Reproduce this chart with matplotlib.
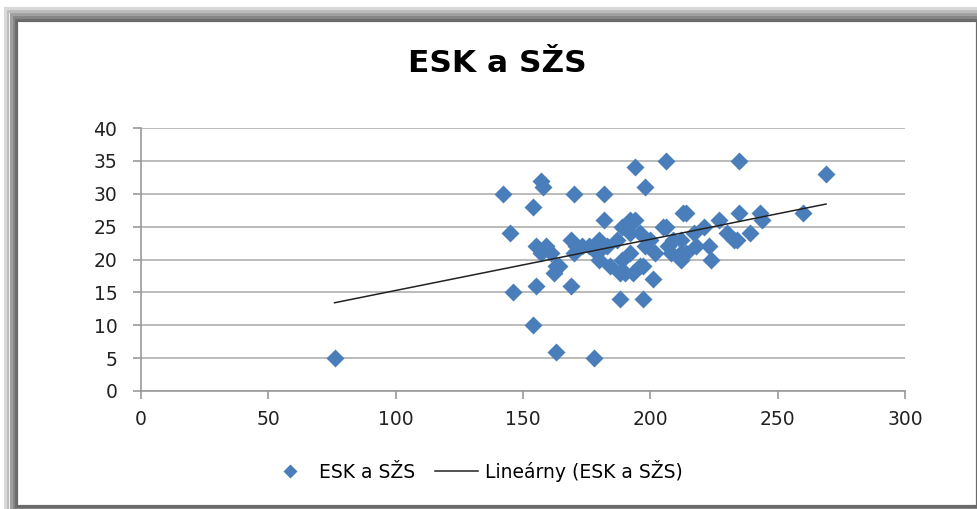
import matplotlib
matplotlib.use('Agg')
import matplotlib.pyplot as plt
import numpy as np
from matplotlib.patches import Rectangle

# ESK (x) and SZS (y) values
esk = [76, 142, 145, 146, 154, 154, 155, 155, 157, 158, 157, 159, 161, 162, 163,
       163, 164, 169, 169, 170, 170, 171, 173, 176, 178, 179, 180, 180, 182, 182,
       183, 184, 187, 188, 188, 189, 189, 190, 191, 192, 192, 192, 193, 194, 194,
       196, 196, 197, 197, 198, 198, 200, 201, 202, 205, 206, 206, 207, 208, 209,
       212, 212, 212, 213, 214, 214, 217, 218, 221, 223, 224, 227, 230, 233, 234,
       235, 235, 239, 243, 244, 260, 269]
szs = [5, 30, 24, 15, 28, 10, 16, 22, 32, 31, 21, 22, 21, 18, 19,
       6, 19, 23, 16, 30, 21, 22, 22, 22, 5, 21, 23, 20, 30, 26,
       22, 19, 23, 18, 14, 25, 20, 18, 25, 26, 24, 21, 18, 34, 26,
       24, 19, 14, 19, 31, 22, 23, 17, 21, 25, 35, 25, 22, 21, 23,
       23, 21, 20, 27, 21, 27, 24, 22, 25, 22, 20, 26, 24, 23, 23,
       35, 27, 24, 27, 26, 27, 33]

title = 'ESK a SŽS'
series_name = 'ESK a SŽS'
trend_name = 'Lineárny (ESK a SŽS)'

W, H = 978, 509
plt.rcParams['font.family'] = ['DejaVu Sans']

fig = plt.figure(figsize=(W / 100, H / 100), dpi=100)
fig.patch.set_facecolor('white')

ax = fig.add_axes([141 / W, 1 - 391 / H, 764 / W, 263 / H])
ax.plot(esk, szs, 'D', ms=9, color='#4a7ebb', mec='none', zorder=3, label=series_name)

# linear trend, like excel's trendline
k, q = np.polyfit(esk, szs, 1)
xs = np.array([min(esk), max(esk)])
ax.plot(xs, k * xs + q, color='#222222', lw=1.1, zorder=4, label=trend_name)

ax.set_xlim(0, 300)
ax.set_ylim(0, 40)
ax.set_xticks(range(0, 301, 50))
ax.set_yticks(range(0, 41, 5))
ax.grid(axis='y', color='#b5b5b5', lw=1.3)
ax.set_axisbelow(True)
for s in ['top', 'right']:
    ax.spines[s].set_visible(False)
for s in ['left', 'bottom']:
    ax.spines[s].set_color('#9a9a9a')
    ax.spines[s].set_linewidth(1.2)
ax.tick_params(axis='y', color='#9a9a9a', length=6, width=1.2, labelsize=13.5, pad=11, labelcolor='#222222')
ax.tick_params(axis='x', color='#9a9a9a', length=6, width=1.2, labelsize=13.5, pad=8, labelcolor='#222222')

fig.text(497 / W, 1 - 63 / H, title, ha='center', va='center', fontsize=22.5, fontweight='bold')

fig.legend(loc='center left', bbox_to_anchor=(252 / W, 1 - 471 / H), ncol=2, frameon=False,
           fontsize=13.5, handlelength=2.3, columnspacing=1.1, handletextpad=0.35, markerscale=0.75)

# shadowed frame around the chart, darker towards the inside
x0, y0, x1, y1 = 18, 21, 976, 504
shades = ['#6a6a6a', '#858585', '#a0a0a0', '#bcbcbc', '#d8d8d8']
for i, c in enumerate(shades):
    d = 1.5 + 3 * i
    fig.patches.append(Rectangle(((x0 - d) / W, 1 - (y1 + d) / H), (x1 - x0 + 2 * d) / W,
                                 (y1 - y0 + 2 * d) / H, transform=fig.transFigure,
                                 fill=False, ec=c, lw=2.3, zorder=0))

fig.savefig('out.png', dpi=100)
